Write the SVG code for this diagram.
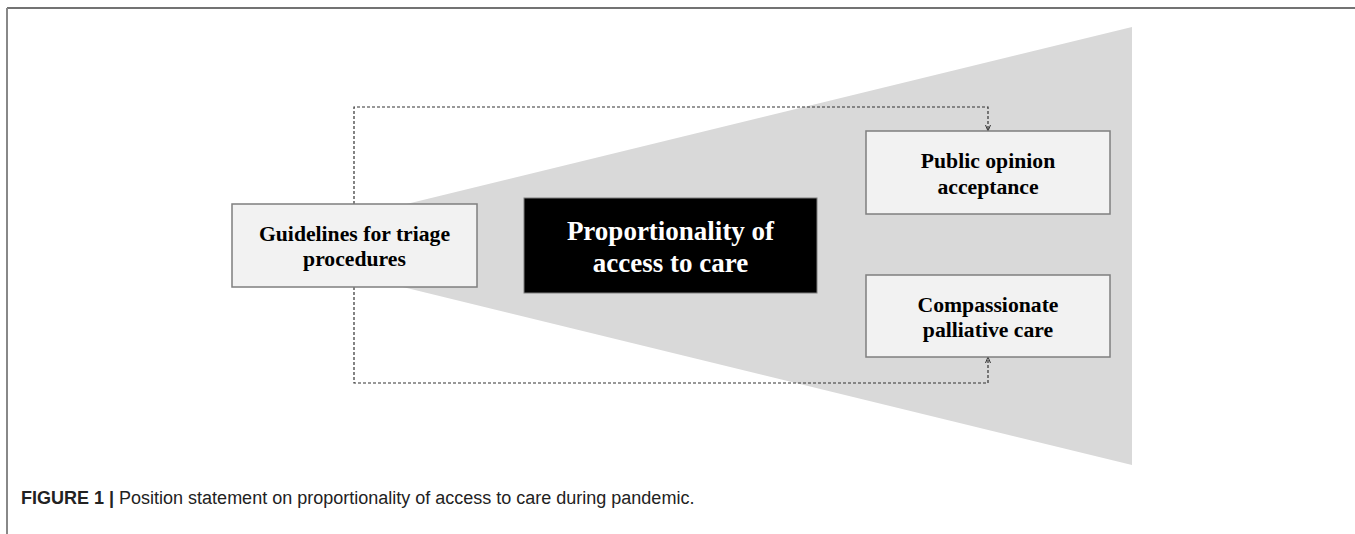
<svg xmlns="http://www.w3.org/2000/svg" width="1355" height="534" viewBox="0 0 1355 534">
  <style>
    .box { fill: #f2f2f2; stroke: #7f7f7f; stroke-width: 1.5; }
    .lbl { font-family: "Liberation Serif", "Times New Roman", serif; font-weight: bold; font-size: 21.7px; fill: #000; text-anchor: middle; }
    .main { font-family: "Liberation Serif", "Times New Roman", serif; font-weight: bold; font-size: 27px; fill: #fff; text-anchor: middle; }
    .conn { fill: none; stroke: #333; stroke-width: 1.2; stroke-dasharray: 3 2; }
    .cap { font-family: "Liberation Sans", Arial, sans-serif; font-size: 18px; fill: #222; }
  </style>
  <defs>
    <marker id="arr" viewBox="0 0 6 6" refX="6" refY="3" markerWidth="6" markerHeight="6" markerUnits="userSpaceOnUse" orient="auto">
      <path d="M0,0.5 L6,3 L0,5.5" fill="none" stroke="#333" stroke-width="1"/>
    </marker>
  </defs>
  <rect x="0" y="0" width="1355" height="534" fill="#fff"/>
  <g id="frame">
    <line x1="7" y1="8" x2="1355" y2="8" stroke="#444" stroke-width="1.5"/>
    <line x1="7" y1="8" x2="7" y2="534" stroke="#888" stroke-width="2"/>
  </g>
  <g id="funnel">
    <polygon points="235,246 1132,27 1132,465" fill="#d9d9d9"/>
  </g>
  <g id="connectors">
    <path class="conn" d="M354,204 L354,107 L988,107 L988,131" marker-end="url(#arr)"/>
    <path class="conn" d="M354,287 L354,383 L988,383 L988,357" marker-end="url(#arr)"/>
  </g>
  <g id="guidelines">
    <rect class="box" x="232" y="204" width="245" height="83"/>
    <text class="lbl" x="354.5" y="241">Guidelines for triage</text>
    <text class="lbl" x="354.5" y="266">procedures</text>
  </g>
  <g id="proportionality">
    <rect x="524" y="198" width="293" height="95" fill="#000" stroke="#7f7f7f" stroke-width="1"/>
    <text class="main" x="670.5" y="240">Proportionality of</text>
    <text class="main" x="670.5" y="272">access to care</text>
  </g>
  <g id="public">
    <rect class="box" x="866" y="131" width="244" height="83"/>
    <text class="lbl" x="988" y="168">Public opinion</text>
    <text class="lbl" x="988" y="194">acceptance</text>
  </g>
  <g id="compassionate">
    <rect class="box" x="866" y="275" width="244" height="82"/>
    <text class="lbl" x="988" y="312">Compassionate</text>
    <text class="lbl" x="988" y="337">palliative care</text>
  </g>
  <g id="caption">
    <text class="cap" x="21" y="504"><tspan font-weight="bold">FIGURE 1 |</tspan> Position statement on proportionality of access to care during pandemic.</text>
  </g>
</svg>
